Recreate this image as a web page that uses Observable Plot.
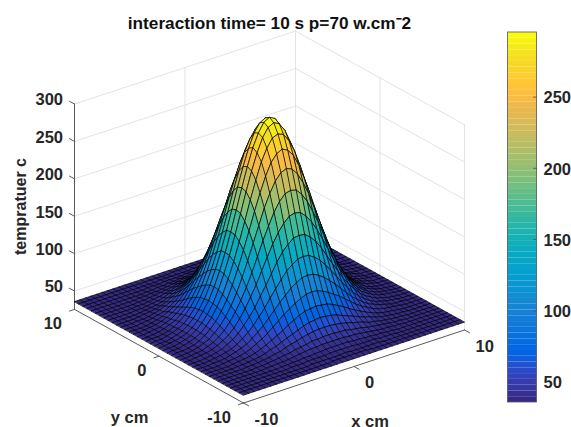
<!DOCTYPE html>
<html><head><meta charset="utf-8">
<script src="https://cdn.jsdelivr.net/npm/d3@7"></script>
<script src="https://cdn.jsdelivr.net/npm/@observablehq/plot@0.6"></script>
<style>html,body{margin:0;padding:0;background:#fff}svg{display:block}</style>
</head><body><div id="chart"></div>
<script>
const titleText = "interaction time= 10 s p=70 w.cm\u207B2";
const xLabel = "x cm", yLabel = "y cm", zLabel = "tempratuer c";
const gridStep = 0.5;
const xyTicks = [-10, 0, 10];
const zTicks = [50, 100, 150, 200, 250, 300];
const barTicks = [50, 100, 150, 200, 250];
const zFloor = 25.5, zTop = 300;
const barMin = 35.5, barMax = 295.4;
// temperature; row = |y|/0.5, column = |x|/0.5 (one quadrant, the surface is symmetric)
const temps = [
[296,292,280,263,240,214,187,160,135,113,94,78,66,56,49,44,41,39,38,37,36],
[292,288,277,259,237,212,185,159,134,112,93,77,65,56,49,44,41,39,37,37,36],
[280,277,266,250,228,204,178,153,129,108,90,76,64,55,48,44,41,39,37,37,36],
[263,259,250,234,214,192,168,145,123,103,86,73,62,54,48,43,40,38,37,37,36],
[240,237,228,214,197,176,155,134,114,96,81,69,59,52,46,43,40,38,37,36,36],
[214,212,204,192,176,159,140,121,104,89,76,65,56,50,45,42,39,38,37,36,36],
[187,185,178,168,155,140,124,108,94,81,70,60,53,48,44,41,39,38,37,36,36],
[160,159,153,145,134,121,108,96,83,73,64,56,50,46,42,40,38,37,36,36,36],
[135,134,129,123,114,104,94,83,74,65,58,52,47,43,41,39,38,37,36,36,36],
[113,112,108,103,96,89,81,73,65,59,53,48,45,42,40,38,37,37,36,36,36],
[94,93,90,86,81,76,70,64,58,53,49,45,42,40,39,38,37,36,36,36,36],
[78,77,76,73,69,65,60,56,52,48,45,42,40,39,38,37,36,36,36,36,36],
[66,65,64,62,59,56,53,50,47,45,42,40,39,38,37,37,36,36,36,36,36],
[56,56,55,54,52,50,48,46,43,42,40,39,38,37,37,36,36,36,36,36,36],
[49,49,48,48,46,45,44,42,41,40,39,38,37,37,36,36,36,36,36,36,36],
[44,44,44,43,43,42,41,40,39,38,38,37,37,36,36,36,36,36,36,36,36],
[41,41,41,40,40,39,39,38,38,37,37,36,36,36,36,36,36,36,36,36,36],
[39,39,39,38,38,38,38,37,37,37,36,36,36,36,36,36,36,36,36,36,36],
[38,37,37,37,37,37,37,36,36,36,36,36,36,36,36,36,36,36,36,36,36],
[37,37,37,37,36,36,36,36,36,36,36,36,36,36,36,36,36,36,36,36,36],
[36,36,36,36,36,36,36,36,36,36,36,36,36,36,36,36,36,36,36,36,36]
];
const parulaRgb = [
[.2081,.1663,.5292],[.2116,.1898,.5777],[.2123,.2138,.6270],[.2081,.2386,.6771],[.1959,.2645,.7279],[.1707,.2919,.7792],[.1253,.3242,.8303],[.0591,.3598,.8683],
[.0117,.3875,.8820],[.0060,.4086,.8828],[.0165,.4266,.8786],[.0329,.4430,.8720],[.0498,.4586,.8641],[.0629,.4737,.8554],[.0723,.4887,.8467],[.0779,.5040,.8384],
[.0793,.5200,.8312],[.0749,.5375,.8263],[.0641,.5570,.8240],[.0488,.5772,.8228],[.0343,.5966,.8199],[.0265,.6137,.8135],[.0239,.6287,.8038],[.0231,.6418,.7913],
[.0228,.6535,.7768],[.0267,.6642,.7607],[.0384,.6743,.7436],[.0590,.6838,.7254],[.0843,.6928,.7062],[.1133,.7015,.6859],[.1453,.7098,.6646],[.1801,.7177,.6424],
[.2178,.7250,.6193],[.2586,.7317,.5954],[.3022,.7376,.5712],[.3482,.7424,.5473],[.3953,.7459,.5244],[.4420,.7481,.5033],[.4871,.7491,.4840],[.5300,.7491,.4661],
[.5709,.7485,.4494],[.6099,.7473,.4337],[.6473,.7456,.4188],[.6834,.7435,.4044],[.7184,.7411,.3905],[.7525,.7384,.3768],[.7858,.7356,.3633],[.8185,.7327,.3498],
[.8507,.7299,.3360],[.8824,.7274,.3217],[.9139,.7258,.3063],[.9450,.7261,.2886],[.9739,.7314,.2666],[.9938,.7455,.2403],[.9990,.7653,.2164],[.9955,.7861,.1967],
[.9880,.8066,.1794],[.9789,.8271,.1633],[.9697,.8481,.1475],[.9626,.8705,.1309],[.9589,.8949,.1132],[.9598,.9218,.0948],[.9661,.9514,.0755],[.9763,.9831,.0538]
];
const colors = parulaRgb.map(([r,g,b]) => d3.rgb(r*255,g*255,b*255).formatHex());
const bandSize = (barMax - barMin) / colors.length;
const thresholds = d3.range(1, colors.length).map(i => barMin + i * bandSize);

// orthographic view of the MATLAB 3-D axes
const sx = (x, y) => 243 + 11.05 * (x + 10) - 8.45 * (y + 10);
const sy = (x, y, z) => 402.5 - 3.65 * (x + 10) - 4.68 * (y + 10) - 0.748 * (z - zFloor);
const P = (x, y, z) => ({px: sx(x, y), py: sy(x, y, z)});
const barY = v => 402 - (v - barMin) / (barMax - barMin) * 370;

// surface quads, far to near
const n = temps.length - 1;
const T = (i, j) => temps[Math.abs(i - n)][Math.abs(j - n)];
const coord = i => (i - n) * gridStep;
const quads = [];
for (let i = 2 * n - 1; i >= 0; i--) for (let j = 2 * n - 1; j >= 0; j--) {
  const corners = [[i,j],[i,j+1],[i+1,j+1],[i+1,j]];
  const mean = d3.mean(corners, ([a,b]) => T(a,b));
  for (const [a,b] of corners) quads.push({...P(coord(b), coord(a), T(a,b)), q: i * 100 + j, v: mean});
}

// wall grid and axis segments
const seg = (id, a, b) => [{...P(...a), id}, {...P(...b), id}];
const grid = [];
for (const z of zTicks) {
  grid.push(...seg("zl"+z, [-10,10,z], [10,10,z]), ...seg("zr"+z, [10,10,z], [10,-10,z]));
}
grid.push(...seg("v1",[0,10,zFloor],[0,10,zTop]), ...seg("v2",[10,10,zFloor],[10,10,zTop]),
          ...seg("v3",[10,0,zFloor],[10,0,zTop]), ...seg("v4",[10,-10,zFloor],[10,-10,zTop]));
const axes = [
  ...seg("az",[-10,10,zFloor],[-10,10,zTop]),
  ...seg("ay",[-10,10,zFloor],[-10,-10,zFloor]),
  ...seg("ax",[-10,-10,zFloor],[10,-10,zFloor])
];
for (const z of [...zTicks]) axes.push(...seg("tz"+z,[-10,10,z],[-10,10.6,z]));
for (const t of xyTicks) {
  axes.push(...seg("ty"+t,[-10,t,zFloor],[-10.45,t,zFloor]));
  axes.push(...seg("tx"+t,[t,-10,zFloor],[t,-10.6,zFloor]));
}

const bands = colors.map((c,i) => ({lo: barMin + i*bandSize, hi: barMin + (i+1)*bandSize}));
const font = {fontFamily: "'Liberation Sans', Arial, sans-serif", fontWeight: "bold", fill: "#262626"};

const chart = Plot.plot({
  width: 571, height: 427, margin: 0,
  style: {background: "#fff", overflow: "hidden"},
  x: {domain: [0, 571], range: [0, 571], axis: null},
  y: {domain: [0, 427], range: [0, 427], axis: null},
  color: {type: "threshold", domain: thresholds, range: colors},
  marks: [
    Plot.line(grid, {x: "px", y: "py", z: "id", stroke: "#e3e3e3", strokeWidth: 1}),
    Plot.line(axes, {x: "px", y: "py", z: "id", stroke: "#5a5a5a", strokeWidth: 1}),
    Plot.line(quads, {x: "px", y: "py", z: "q", fill: "v", curve: "linear-closed", stroke: "#000", strokeWidth: 0.8, strokeOpacity: 0.85}),
    // colour bar
    Plot.rect(bands, {x1: () => 507.5, x2: () => 536.5, y1: d => barY(d.lo), y2: d => barY(d.hi), fill: d => (d.lo + d.hi) / 2}),
    Plot.rect([0], {x1: () => 507.5, x2: () => 536.5, y1: () => barY(barMin), y2: () => barY(barMax), fill: "none", stroke: "#555", strokeWidth: 0.8}),
    Plot.link(barTicks, {x1: () => 532.5, x2: () => 536.5, y1: barY, y2: barY, stroke: "#555", strokeWidth: 0.8}),
    Plot.text(barTicks, {x: () => 543, y: barY, dy: 1, text: d => String(d), textAnchor: "start", fontSize: 16.5, ...font}),
    // tick labels
    Plot.text(zTicks, {x: d => sx(-10,10), y: d => sy(-10,10,d), dx: -11.5, dy: -4, text: d => String(d), textAnchor: "end", fontSize: 16.5, ...font}),
    Plot.text(xyTicks, {x: d => sx(-10,d), y: d => sy(-10,d,zFloor), dx: -12.5, dy: 14.5, text: d => String(d), textAnchor: "end", fontSize: 16.5, ...font}),
    Plot.text(xyTicks, {x: d => sx(d,-10), y: d => sy(d,-10,zFloor), dx: 11, dy: 16.5, text: d => String(d), textAnchor: "start", fontSize: 16.5, ...font}),
    // titles
    Plot.text([titleText], {x: () => 269, y: () => 23, text: d => d, fontSize: 17.2, ...font, fill: "#111"}),
    Plot.text([xLabel], {x: () => 369.5, y: () => 421.5, text: d => d, fontSize: 16.5, ...font}),
    Plot.text([yLabel], {x: () => 129, y: () => 417, text: d => d, fontSize: 16.5, ...font}),
    Plot.text([zLabel], {x: () => 20, y: () => 206, rotate: -90, text: d => d, fontSize: 16, ...font})
  ]
});
document.getElementById("chart").append(chart);
</script></body></html>
